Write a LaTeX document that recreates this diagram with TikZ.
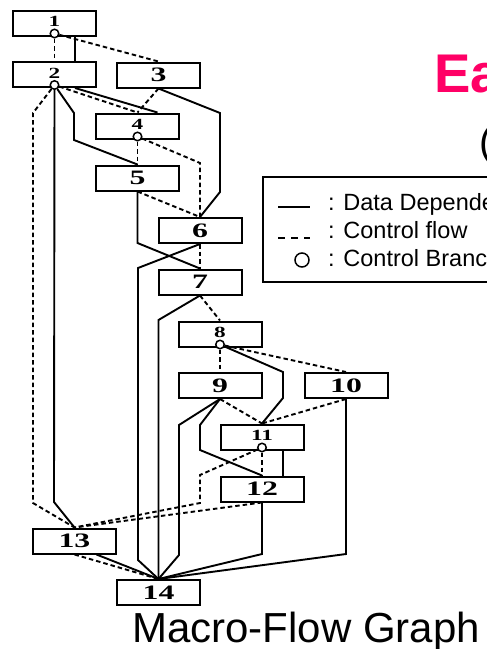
\documentclass[tikz,border=0pt]{standalone}
\usepackage{fontspec}
\usepackage{graphicx}
\setmainfont{Liberation Serif}
\newfontfamily\arialf{Liberation Sans}
\usetikzlibrary{calc}
\definecolor{titlepink}{RGB}{255,0,102}
\newcommand\bnum[1]{\scalebox{1.55}[1]{#1}}
\newcommand\snum[1]{\raisebox{3pt}{\scalebox{1.5}[1]{#1}}}
\tikzset{
  box/.style={draw, line width=2pt, minimum width=83pt, minimum height=25pt, inner sep=0pt, fill=white},
  bigbox/.style={box, font=\fontsize{20.5}{20.5}\selectfont\bfseries},
  smallbox/.style={box, font=\fontsize{15.5}{15.5}\selectfont\bfseries},
  dep/.style={line width=1.9pt, line join=miter},
  ctl/.style={line width=1.9pt, dash pattern=on 4.5pt off 3pt},
  br/.style={circle, draw, fill=white, line width=1.5pt, minimum size=8.5pt, inner sep=0pt},
  legtext/.style={anchor=base west, inner sep=0pt, font=\arialf\fontsize{23.5}{23.5}\selectfont}
}
\begin{document}
\begin{tikzpicture}[x=1pt,y=-1pt]
\useasboundingbox (0,0) rectangle (487,649);
\clip (0,0) rectangle (487,649);

% boxes
\node[smallbox] (b1) at (54.5,23) {\snum{1}};
\node[smallbox] (b2) at (54.5,74.5) {\snum{2}};
\node[bigbox] (b3) at (158.5,75) {\bnum{3}};
\node[smallbox] (b4) at (137.5,126) {\snum{4}};
\node[bigbox] (b5) at (137.5,178) {\bnum{5}};
\node[bigbox] (b6) at (200,230.5) {\bnum{6}};
\node[bigbox] (b7) at (200,282) {\bnum{7}};
\node[smallbox] (b8) at (220,334) {\snum{8}};
\node[bigbox] (b9) at (220,385.5) {\bnum{9}};
\node[bigbox] (b10) at (346,385.5) {\bnum{10}};
\node[smallbox] (b11) at (262,437) {\snum{11}};
\node[bigbox] (b12) at (262,489) {\bnum{12}};
\node[bigbox] (b13) at (74.5,541) {\bnum{13}};
\node[bigbox] (b14) at (158.5,592.5) {\bnum{14}};

% control branch circles
\node[br] (c1) at ($(b1.south)+(0,-3)$) {};
\node[br] (c2) at ($(b2.south)+(0,-3)$) {};
\node[br] (c4) at ($(b4.south)+(0,-3)$) {};
\node[br] (c8) at ($(b8.south)+(0,-3)$) {};
\node[br] (c11) at ($(b11.south)+(0,-3)$) {};

% from 1
\draw[dep] ($(b1.south)+(20.5,0)$) -- ($(b2.north)+(20.5,0)$);
\draw[ctl] (c1) -- (c1 |- b2.north);
\draw[ctl] (c1) -- (b3.north);
% from 2
\draw[ctl] (c2) -- (33,113) -- (33,503) -- (b13.north);
\draw[dep] (c2) -- (54,502) -- (b13.north);
\draw[dep] (c2) -- (74,113) -- (74,140) -- (b5.north);
\draw[ctl] (c2) -- (b4.north);
\draw[dep] ($(b2.south)+(20.5,0)$) -- ($(b4.north)+(20,0)$);
% from 3
\draw[ctl] (b3.south) -- (b4.north);
\draw[dep] (b3.south) -- (220,113) -- (220,192) -- (b6.north);
% from 4
\draw[ctl] (c4) -- (b5.north);
\draw[ctl] (c4) -- (200,163) -- (b6.north);
% from 5
\draw[ctl] (b5.south) -- (b6.north);
\draw[dep] (b5.south) -- (137.5,243) -- (b7.north);
% from 6
\draw[ctl] (b6.south) -- (b7.north);
\draw[dep] (b6.south) -- (138,268) -- (138,560) -- (b14.north);
% from 7
\draw[ctl] (b7.south) -- (b8.north);
\draw[dep] (b7.south) -- (158.5,320) -- (b14.north);
% from 8
\draw[ctl] (c8) -- (b9.north);
\draw[dep] (c8) -- (283,372) -- (283,398) -- (b11.north);
\draw[ctl] (c8) -- (b10.north);
% from 9
\draw[ctl] (b9.south) -- (b11.north);
\draw[dep] (b9.south) -- (179,425) -- (179,555) -- (b14.north);
\draw[dep] (b9.south) -- (200,425) -- (200,450) -- (b12.north);
% from 10
\draw[ctl] (b10.south) -- (b11.north);
\draw[dep] (b10.south) -- (346,554) -- (b14.north);
% from 11
\draw[dep] ($(b11.south)+(21,0)$) -- ($(b12.north)+(21,0)$);
\draw[ctl] (c11) -- (b12.north);
\draw[ctl] (c11) -- (200,475) -- (200,503) -- (b13.north);
% from 12
\draw[ctl] (b12.south) -- (b13.north);
\draw[dep] (b12.south) -- (262,554) -- (b14.north);
% from 13
\draw[ctl] (b13.south) -- (b14.north);
\draw[dep] ($(b13.south)+(22,0)$) -- (b14.north);

% legend
\draw[line width=1.5pt] (263,177) rectangle (500,282);
\draw[dep] (278,207) -- (310,207);
\draw[line width=1.9pt, dash pattern=on 7pt off 6pt] (278,238) -- (310,238);
\node[circle, draw, line width=1.5pt, minimum size=14pt, inner sep=0pt] (lc) at (302,260) {};
\node[legtext] (l1) at (328,210) {: Data Depende};
\node[legtext] (l2) at (328,238) {: Control flow};
\node[legtext] (l3) at (328,266.5) {: Control Branc};

% titles
\node[anchor=base west, inner sep=0pt, text=titlepink, font=\arialf\bfseries\fontsize{54.5}{54.5}\selectfont] (title) at (434,92) {Ea};
\node[anchor=base west, inner sep=0pt, font=\arialf\fontsize{40}{40}\selectfont] (paren) at (479,155) {(};
\node[anchor=base west, inner sep=0pt, font=\arialf\fontsize{42}{42}\selectfont] (caption) at (132,642) {Macro-Flow Graph};
\end{tikzpicture}
\end{document}
